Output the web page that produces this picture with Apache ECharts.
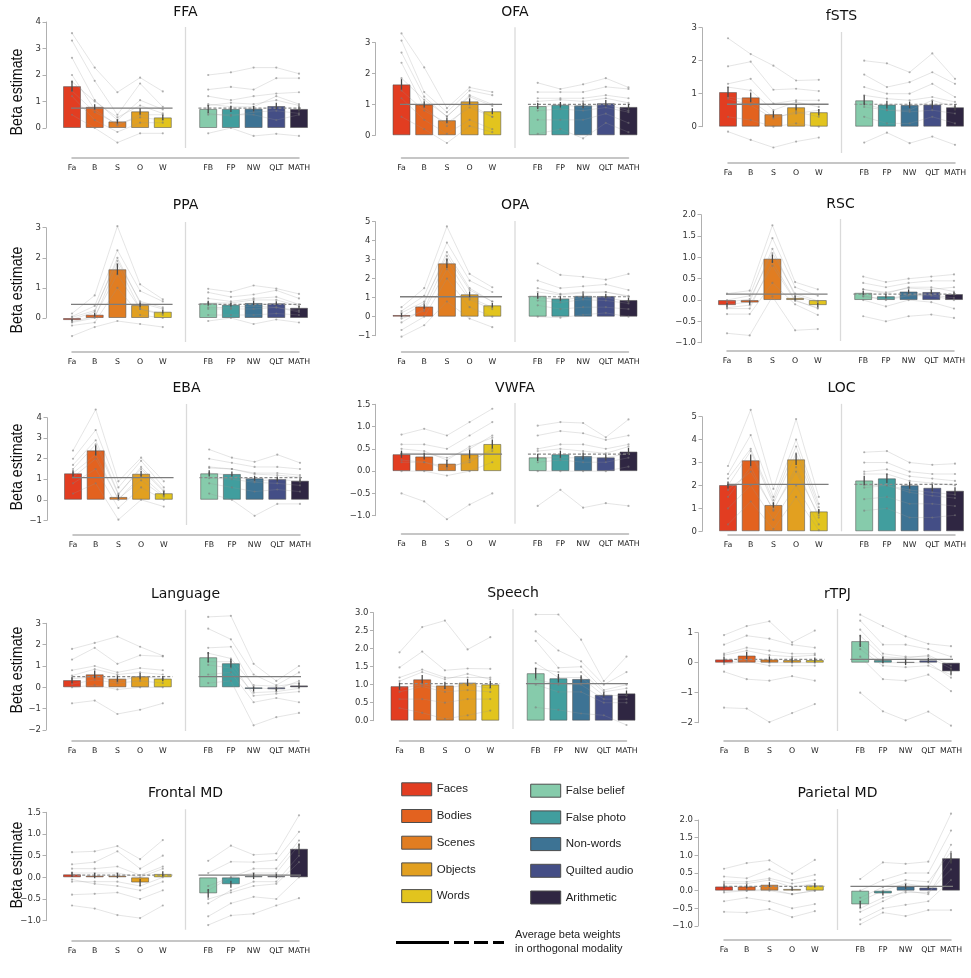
<!DOCTYPE html>
<html>
<head>
<meta charset="utf-8">
<title>ROI beta estimates</title>
<script src="https://cdn.jsdelivr.net/npm/echarts@6/dist/echarts.min.js"></script>
<style>
  html, body { margin: 0; padding: 0; background: #fff; }
  #chart { width: 971px; height: 978px; }
</style>
</head>
<body>
<div id="chart"></div>
<script>
// conditions (x slots 0-4 visual, 6-10 auditory, slot 5 is the gap)
const conditions = ['Fa', 'B', 'S', 'O', 'W', 'FB', 'FP', 'NW', 'QLT', 'MATH']
const condX = [0, 1, 2, 3, 4, 6, 7, 8, 9, 10]
const condNames = ['Faces', 'Bodies', 'Scenes', 'Objects', 'Words', 'False belief', 'False photo', 'Non-words', 'Quilted audio', 'Arithmetic']
const condColors = ['#E23D21', '#E3621F', '#E17D21', '#E2A020', '#E2C41E', '#86CBAB', '#419E9E', '#3D7394', '#444E86', '#2F2642']

// ---- FFA
const ffaMean = [1.58, 0.80, 0.25, 0.63, 0.40, 0.72, 0.72, 0.73, 0.83, 0.72]
const ffaSem = [0.20, 0.10, 0.08, 0.12, 0.10, 0.15, 0.12, 0.10, 0.12, 0.10]
const ffaRef = 0.75
const ffaSubjects = [
  [3.58, 2.28, 1.35, 1.90, 1.38, 2.00, 2.10, 2.28, 2.28, 2.05],
  [3.30, 1.78, 0.50, 1.68, 0.80, 1.45, 1.55, 1.45, 1.88, 1.88],
  [2.65, 1.05, 0.30, 1.05, 0.70, 1.20, 1.05, 1.20, 1.30, 1.35],
  [2.00, 0.70, 0.10, 0.50, 0.50, 0.90, 0.80, 0.80, 1.20, 0.90],
  [1.75, 1.00, 0.40, 0.85, 0.55, 0.85, 0.95, 0.90, 1.05, 0.85],
  [1.40, 0.60, 0.15, 0.40, 0.30, 0.55, 0.45, 0.60, 0.65, 0.55],
  [1.20, 0.30, -0.15, 0.20, 0.20, 0.50, 0.50, 0.50, 0.30, 0.50],
  [0.50, 0.00, -0.55, -0.20, -0.20, -0.20, 0.00, -0.30, -0.22, -0.30]
]
// ---- OFA
const ofaMean = [1.65, 1.00, 0.49, 1.10, 0.78, 0.95, 0.99, 0.97, 1.04, 0.92]
const ofaSem = [0.17, 0.10, 0.08, 0.10, 0.10, 0.10, 0.09, 0.09, 0.10, 0.10]
const ofaRef = 1.0
const ofaSubjects = [
  [3.30, 2.20, 0.88, 1.55, 1.40, 1.70, 1.50, 1.65, 1.85, 1.55],
  [3.07, 1.40, 0.75, 1.45, 1.30, 1.40, 1.40, 1.40, 1.57, 1.50],
  [2.68, 1.25, 0.60, 1.30, 1.00, 1.20, 1.20, 1.20, 1.30, 1.20],
  [2.35, 0.90, 0.30, 1.00, 0.60, 0.90, 1.00, 0.90, 1.00, 0.80],
  [1.85, 1.15, 0.62, 1.25, 0.95, 1.10, 1.15, 1.10, 1.20, 1.05],
  [1.45, 0.80, 0.40, 0.90, 0.60, 0.80, 0.85, 0.80, 0.90, 0.75],
  [1.20, 0.50, 0.05, 0.50, 0.20, 0.50, 0.50, 0.50, 0.70, 0.40],
  [0.60, 0.20, -0.25, 0.30, 0.10, 0.05, 0.20, -0.10, 0.40, 0.10]
]
// ---- fSTS
const fstsMean = [1.05, 0.89, 0.38, 0.59, 0.44, 0.80, 0.67, 0.66, 0.67, 0.59]
const fstsSem = [0.15, 0.15, 0.10, 0.10, 0.10, 0.15, 0.12, 0.10, 0.12, 0.10]
const fstsRef = 0.68
const fstsSubjects = [
  [2.68, 2.20, 1.85, 1.40, 1.42, 2.00, 1.92, 1.65, 2.22, 1.45],
  [1.83, 1.97, 1.12, 1.15, 1.08, 1.58, 1.20, 1.35, 1.65, 1.30],
  [1.30, 1.45, 0.70, 0.80, 0.80, 1.20, 1.00, 1.00, 1.30, 0.90],
  [0.90, 0.80, 0.30, 0.40, 0.50, 0.70, 0.50, 0.50, 0.80, 0.60],
  [1.20, 1.10, 0.50, 0.75, 0.60, 0.95, 0.85, 0.80, 0.90, 0.75],
  [0.85, 0.65, 0.25, 0.45, 0.30, 0.60, 0.50, 0.45, 0.50, 0.40],
  [0.30, 0.20, 0.00, 0.10, 0.00, 0.30, 0.10, 0.10, 0.30, 0.10],
  [-0.15, -0.40, -0.63, -0.45, -0.33, -0.48, -0.18, -0.50, -0.30, -0.55]
]
// ---- PPA
const ppaMean = [-0.07, 0.11, 1.62, 0.43, 0.21, 0.49, 0.44, 0.50, 0.49, 0.34]
const ppaSem = [0.04, 0.06, 0.18, 0.08, 0.06, 0.08, 0.06, 0.07, 0.07, 0.06]
const ppaRef = 0.45
const ppaSubjects = [
  [0.15, 0.75, 3.05, 1.12, 0.62, 0.97, 0.87, 1.08, 0.98, 0.80],
  [0.05, 0.40, 2.25, 0.90, 0.55, 0.85, 0.70, 0.78, 0.92, 0.65],
  [-0.05, 0.20, 2.00, 0.50, 0.30, 0.50, 0.50, 0.60, 0.60, 0.40],
  [-0.15, 0.00, 1.80, 0.30, 0.10, 0.30, 0.30, 0.30, 0.35, 0.20],
  [0.02, 0.25, 1.90, 0.55, 0.35, 0.65, 0.55, 0.65, 0.70, 0.45],
  [-0.12, 0.05, 1.45, 0.30, 0.15, 0.35, 0.35, 0.40, 0.35, 0.25],
  [-0.25, -0.15, 1.00, 0.10, 0.00, 0.10, 0.10, 0.10, 0.15, 0.10],
  [-0.60, -0.30, -0.10, -0.20, -0.30, -0.10, 0.00, -0.20, -0.05, -0.15]
]
// ---- OPA
const opaMean = [0.09, 0.54, 2.81, 1.18, 0.60, 1.10, 0.96, 1.10, 1.09, 0.88]
const opaSem = [0.10, 0.12, 0.25, 0.15, 0.12, 0.15, 0.12, 0.12, 0.12, 0.12]
const opaRef = 1.05
const opaSubjects = [
  [0.50, 1.50, 4.75, 2.25, 1.55, 2.80, 2.20, 2.10, 1.95, 2.25],
  [0.30, 1.10, 3.90, 1.90, 1.30, 1.90, 1.50, 1.60, 1.70, 1.40],
  [0.00, 0.70, 3.40, 1.50, 0.80, 1.50, 1.20, 1.30, 1.30, 1.10],
  [-0.30, 0.40, 3.00, 1.00, 0.50, 1.00, 0.90, 1.00, 1.00, 0.80],
  [0.20, 0.80, 3.20, 1.40, 0.80, 1.30, 1.15, 1.25, 1.30, 1.05],
  [-0.10, 0.30, 2.50, 0.90, 0.40, 0.85, 0.75, 0.90, 0.85, 0.70],
  [-0.70, 0.00, 2.00, 0.50, 0.00, 0.60, 0.40, 0.50, 0.50, 0.40],
  [-1.05, -0.45, 0.80, -0.10, -0.55, 0.00, -0.05, 0.10, 0.20, 0.00]
]
// ---- RSC
const rscMean = [-0.12, -0.06, 0.97, 0.05, -0.12, 0.17, 0.09, 0.20, 0.19, 0.14]
const rscSem = [0.05, 0.05, 0.10, 0.05, 0.05, 0.05, 0.05, 0.05, 0.05, 0.05]
const rscRef = 0.14
const rscSubjects = [
  [0.15, 0.22, 1.75, 0.42, 0.25, 0.55, 0.42, 0.50, 0.55, 0.60],
  [0.00, 0.10, 1.45, 0.30, 0.10, 0.40, 0.30, 0.40, 0.45, 0.45],
  [-0.10, -0.05, 1.20, 0.10, -0.05, 0.25, 0.15, 0.30, 0.30, 0.20],
  [-0.20, -0.20, 0.90, 0.00, -0.20, 0.10, 0.00, 0.10, 0.10, 0.00],
  [-0.05, 0.02, 1.10, 0.15, -0.02, 0.25, 0.18, 0.28, 0.25, 0.30],
  [-0.18, -0.12, 0.80, -0.02, -0.18, 0.08, 0.02, 0.12, 0.12, 0.05],
  [-0.33, -0.33, 0.40, -0.10, -0.35, 0.00, -0.15, 0.00, -0.05, -0.20],
  [-0.78, -0.83, 0.08, -0.71, -0.68, -0.38, -0.50, -0.38, -0.34, -0.42]
]
// ---- EBA
const ebaMean = [1.29, 2.41, 0.14, 1.27, 0.32, 1.29, 1.26, 1.05, 1.01, 0.93]
const ebaSem = [0.15, 0.25, 0.10, 0.15, 0.10, 0.15, 0.12, 0.12, 0.12, 0.12]
const ebaRef = 1.08
const ebaSubjects = [
  [2.40, 4.40, 0.90, 2.05, 0.90, 2.45, 2.05, 1.85, 2.20, 1.80],
  [2.00, 3.40, 0.60, 1.90, 0.60, 2.00, 1.80, 1.60, 1.60, 1.50],
  [1.70, 2.90, 0.30, 1.50, 0.40, 1.60, 1.50, 1.30, 1.30, 1.20],
  [1.30, 2.20, 0.00, 1.20, 0.20, 1.30, 1.20, 0.90, 1.00, 0.90],
  [1.50, 2.70, 0.25, 1.60, 0.45, 1.55, 1.50, 1.25, 1.20, 1.10],
  [1.10, 2.00, 0.05, 0.95, 0.15, 1.05, 1.00, 0.85, 0.80, 0.70],
  [0.80, 1.50, -0.40, 0.60, 0.00, 0.80, 0.60, 0.40, 0.50, 0.40],
  [0.30, 0.80, -0.97, 0.00, -0.33, 0.30, 0.00, -0.78, -0.20, -0.20]
]
// ---- VWFA
const vwfaMean = [0.38, 0.33, 0.17, 0.38, 0.61, 0.31, 0.38, 0.34, 0.31, 0.44]
const vwfaSem = [0.08, 0.07, 0.08, 0.10, 0.10, 0.08, 0.08, 0.08, 0.07, 0.08]
const vwfaRef = 0.38
const vwfaSubjects = [
  [0.82, 0.95, 0.80, 1.10, 1.40, 1.02, 1.10, 1.08, 0.76, 1.16],
  [0.60, 0.60, 0.50, 0.80, 1.10, 0.80, 0.90, 0.85, 0.70, 0.80],
  [0.40, 0.40, 0.30, 0.50, 0.80, 0.50, 0.60, 0.60, 0.50, 0.60],
  [0.20, 0.20, 0.10, 0.20, 0.50, 0.30, 0.30, 0.30, 0.30, 0.40],
  [0.50, 0.45, 0.25, 0.55, 0.75, 0.45, 0.50, 0.45, 0.40, 0.55],
  [0.25, 0.20, 0.05, 0.25, 0.45, 0.20, 0.25, 0.20, 0.20, 0.30],
  [0.00, 0.00, -0.10, 0.00, 0.20, 0.00, 0.00, 0.00, 0.00, 0.10],
  [-0.50, -0.68, -1.08, -0.75, -0.50, -0.78, -0.42, -0.82, -0.72, -0.78]
]
// ---- LOC
const locMean = [2.02, 3.10, 1.15, 3.14, 0.87, 2.22, 2.31, 2.01, 1.90, 1.77]
const locSem = [0.15, 0.25, 0.12, 0.25, 0.10, 0.20, 0.20, 0.15, 0.15, 0.15]
const locRef = 2.05
const locSubjects = [
  [2.85, 5.30, 1.85, 4.90, 1.50, 3.45, 3.50, 3.00, 2.90, 2.95],
  [2.50, 4.20, 1.50, 4.00, 1.20, 3.00, 3.00, 2.60, 2.50, 2.50],
  [2.00, 3.50, 1.20, 3.40, 0.90, 2.50, 2.50, 2.20, 2.10, 2.00],
  [1.50, 2.80, 0.90, 2.80, 0.60, 2.00, 2.00, 1.80, 1.70, 1.60],
  [2.30, 3.60, 1.35, 3.70, 1.05, 2.60, 2.70, 2.40, 2.30, 2.20],
  [1.80, 2.60, 0.95, 2.60, 0.70, 1.90, 2.00, 1.70, 1.55, 1.45],
  [1.00, 2.00, 0.50, 2.00, 0.30, 1.40, 1.50, 1.20, 1.20, 1.10],
  [0.30, 1.30, 0.10, 1.50, 0.05, 0.90, 1.00, 0.60, 0.60, 0.70]
]
// ---- Language
const langMean = [0.34, 0.61, 0.41, 0.52, 0.41, 1.41, 1.13, -0.08, -0.09, 0.09]
const langSem = [0.15, 0.18, 0.15, 0.15, 0.12, 0.25, 0.20, 0.12, 0.10, 0.12]
const langRef = 0.50
const langSubjects = [
  [1.80, 2.08, 2.38, 1.90, 1.48, 3.30, 3.35, 1.10, 0.30, 1.00],
  [1.30, 1.85, 1.10, 1.50, 1.45, 2.75, 2.25, 0.60, 0.10, 0.70],
  [0.80, 1.00, 0.70, 0.90, 0.80, 1.85, 1.90, 0.00, -0.10, 0.30],
  [0.40, 0.50, 0.30, 0.50, 0.40, 1.20, 1.20, -0.40, -0.30, -0.20],
  [0.55, 0.85, 0.60, 0.70, 0.60, 1.60, 1.35, 0.10, 0.05, 0.20],
  [0.15, 0.35, 0.20, 0.30, 0.20, 1.05, 0.90, -0.25, -0.20, -0.05],
  [0.00, 0.10, -0.10, 0.00, 0.00, 0.60, 0.70, -0.70, -0.50, -0.70],
  [-0.75, -0.62, -1.25, -1.05, -0.75, 0.20, 0.30, -1.78, -1.40, -1.20]
]
// ---- Speech
const speechMean = [0.96, 1.15, 0.98, 1.06, 1.01, 1.32, 1.18, 1.16, 0.72, 0.76]
const speechSem = [0.10, 0.12, 0.10, 0.10, 0.10, 0.15, 0.12, 0.10, 0.07, 0.08]
const speechRef = 1.03
const speechSubjects = [
  [1.90, 2.60, 2.78, 1.98, 2.32, 2.95, 2.95, 2.25, 1.10, 1.78],
  [1.48, 1.92, 1.40, 1.45, 1.44, 2.48, 1.95, 1.65, 1.00, 1.35],
  [1.20, 1.42, 1.20, 1.20, 1.20, 2.22, 1.47, 1.50, 0.85, 1.00],
  [0.90, 1.00, 0.90, 1.00, 0.90, 1.60, 1.20, 1.20, 0.70, 0.70],
  [1.10, 1.35, 1.15, 1.30, 1.15, 1.45, 1.35, 1.35, 0.80, 0.90],
  [0.80, 0.95, 0.80, 0.85, 0.80, 1.15, 1.00, 1.00, 0.60, 0.60],
  [0.60, 0.60, 0.50, 0.60, 0.60, 1.00, 0.80, 0.80, 0.50, 0.50],
  [0.35, 0.22, 0.05, 0.15, 0.28, 0.37, 0.30, 0.20, 0.15, -0.12]
]
// ---- rTPJ
const rtpjMean = [0.11, 0.24, 0.11, 0.09, 0.09, 0.72, 0.09, 0.02, 0.08, -0.29]
const rtpjSem = [0.10, 0.12, 0.10, 0.08, 0.08, 0.20, 0.10, 0.10, 0.08, 0.10]
const rtpjRef = 0.11
const rtpjSubjects = [
  [0.92, 1.22, 1.38, 0.68, 1.07, 1.60, 1.22, 0.88, 0.63, 0.55],
  [0.60, 0.90, 0.80, 0.60, 0.50, 1.40, 0.60, 0.60, 0.45, 0.20],
  [0.30, 0.50, 0.40, 0.30, 0.30, 1.10, 0.30, 0.20, 0.20, -0.20],
  [0.00, 0.10, 0.00, 0.00, 0.00, 0.60, 0.00, 0.00, 0.00, -0.50],
  [0.25, 0.40, 0.25, 0.20, 0.25, 0.90, 0.20, 0.15, 0.25, -0.10],
  [-0.05, 0.05, -0.10, -0.10, -0.10, 0.45, -0.10, -0.15, -0.10, -0.40],
  [-0.30, -0.55, -0.60, -0.45, -0.60, 0.20, -0.55, -0.60, -0.40, -0.95],
  [-1.50, -1.53, -1.98, -1.68, -1.38, -1.00, -1.62, -1.92, -1.63, -2.10]
]
// ---- Frontal MD
const fmdMean = [0.07, 0.04, 0.04, -0.12, 0.08, -0.37, -0.16, 0.03, 0.03, 0.66]
const fmdSem = [0.06, 0.06, 0.06, 0.08, 0.06, 0.10, 0.08, 0.07, 0.05, 0.12]
const fmdRef = 0.05
const fmdSubjects = [
  [0.58, 0.60, 0.72, 0.42, 0.86, 0.38, 0.73, 0.52, 0.55, 1.43],
  [0.30, 0.35, 0.60, 0.20, 0.50, 0.10, 0.36, 0.35, 0.40, 1.05],
  [0.10, 0.10, 0.10, 0.00, 0.20, -0.30, 0.00, 0.10, 0.10, 0.75],
  [-0.10, -0.10, -0.10, -0.20, 0.00, -0.60, -0.30, -0.10, -0.10, 0.50],
  [0.20, 0.20, 0.25, 0.05, 0.25, -0.20, 0.00, 0.20, 0.20, 0.85],
  [-0.05, -0.15, -0.20, -0.30, -0.10, -0.50, -0.35, -0.20, -0.15, 0.35],
  [-0.40, -0.38, -0.35, -0.50, -0.30, -0.90, -0.60, -0.45, -0.50, 0.00],
  [-0.65, -0.72, -0.87, -0.94, -0.65, -1.10, -0.88, -0.84, -0.65, -0.48]
]
// ---- Parietal MD
const pmdMean = [0.12, 0.12, 0.17, 0.05, 0.15, -0.39, -0.08, 0.12, 0.09, 0.92]
const pmdSem = [0.06, 0.06, 0.07, 0.05, 0.06, 0.10, 0.06, 0.07, 0.05, 0.15]
const pmdRef = 0.12
const pmdSubjects = [
  [0.62, 0.78, 0.86, 0.48, 0.87, 0.33, 0.80, 0.76, 0.82, 2.18],
  [0.40, 0.35, 0.60, 0.30, 0.45, 0.00, 0.30, 0.50, 0.50, 1.70],
  [0.20, 0.20, 0.30, 0.10, 0.20, -0.30, 0.00, 0.20, 0.10, 1.30],
  [0.00, 0.00, 0.00, -0.10, 0.00, -0.60, -0.30, 0.00, -0.10, 0.90],
  [0.25, 0.25, 0.35, 0.20, 0.30, -0.20, 0.10, 0.30, 0.25, 1.10],
  [-0.05, 0.00, 0.05, -0.10, 0.00, -0.50, -0.20, -0.05, -0.05, 0.60],
  [-0.30, -0.20, -0.30, -0.50, -0.38, -0.82, -0.50, -0.40, -0.30, 0.30],
  [-0.60, -0.62, -0.52, -0.75, -0.58, -0.95, -0.62, -0.72, -0.55, -0.55]
]

// panel layout: grid spans tick range (px), lo/hi = axes limits, visual = solid ref on left half
const panels = [
  {roi: 'FFA', mean: ffaMean, sem: ffaSem, ref: ffaRef, subj: ffaSubjects, visual: true, left: 72, top: 22, bottom: 128, tmin: 0, tmax: 4, step: 1, lo: -0.75, hi: 3.81, xOff: 30, titleY: 12},
  {roi: 'OFA', mean: ofaMean, sem: ofaSem, ref: ofaRef, subj: ofaSubjects, visual: true, left: 401.5, top: 42.7, bottom: 135.3, tmin: 0, tmax: 3, step: 1, lo: -0.41, hi: 3.5, xOff: 22.7, titleY: 12.5},
  {roi: 'fSTS', mean: fstsMean, sem: fstsSem, ref: fstsRef, subj: fstsSubjects, visual: true, left: 728, top: 27.7, bottom: 126.7, tmin: 0, tmax: 3, step: 1, lo: -0.8, hi: 2.87, xOff: 36.3, titleY: 16},
  {roi: 'PPA', mean: ppaMean, sem: ppaSem, ref: ppaRef, subj: ppaSubjects, visual: true, left: 72, top: 227.7, bottom: 318, tmin: 0, tmax: 3, step: 1, lo: -0.8, hi: 3.19, xOff: 34, titleY: 205},
  {roi: 'OPA', mean: opaMean, sem: opaSem, ref: opaRef, subj: opaSubjects, visual: true, left: 401.5, top: 221.7, bottom: 335.7, tmin: -1, tmax: 5, step: 1, lo: -1.33, hi: 5.04, xOff: 16.3, titleY: 205},
  {roi: 'RSC', mean: rscMean, sem: rscSem, ref: rscRef, subj: rscSubjects, visual: true, left: 727, top: 214.7, bottom: 342.7, tmin: -1, tmax: 2, step: 0.5, lo: -0.96, hi: 1.9, xOff: 8.3, titleY: 204},
  {roi: 'EBA', mean: ebaMean, sem: ebaSem, ref: ebaRef, subj: ebaSubjects, visual: true, left: 73, top: 417.7, bottom: 520.3, tmin: -1, tmax: 4, step: 1, lo: -1.23, hi: 4.67, xOff: 14.7, titleY: 388},
  {roi: 'VWFA', mean: vwfaMean, sem: vwfaSem, ref: vwfaRef, subj: vwfaSubjects, visual: true, left: 401.5, top: 404.3, bottom: 515.7, tmin: -1, tmax: 1.5, step: 0.5, lo: -1.18, hi: 1.53, xOff: 18.3, titleY: 388},
  {roi: 'LOC', mean: locMean, sem: locSem, ref: locRef, subj: locSubjects, visual: true, left: 728, top: 416.7, bottom: 531.3, tmin: 0, tmax: 5, step: 1, lo: 0, hi: 5.56, xOff: 3.7, titleY: 388},
  {roi: 'Language', mean: langMean, sem: langSem, ref: langRef, subj: langSubjects, visual: false, left: 72, top: 623.3, bottom: 730, tmin: -2, tmax: 3, step: 1, lo: -2.05, hi: 3.63, xOff: 11, titleY: 594},
  {roi: 'Speech', mean: speechMean, sem: speechSem, ref: speechRef, subj: speechSubjects, visual: false, left: 399.5, top: 612.7, bottom: 720.7, tmin: 0, tmax: 3, step: 0.5, lo: -0.23, hi: 3.1, xOff: 20.3, titleY: 593},
  {roi: 'rTPJ', mean: rtpjMean, sem: rtpjSem, ref: rtpjRef, subj: rtpjSubjects, visual: false, left: 724, top: 632.7, bottom: 722.7, tmin: -2, tmax: 1, step: 1, lo: -2.28, hi: 1.79, xOff: 18.3, titleY: 594},
  {roi: 'Frontal MD', mean: fmdMean, sem: fmdSem, ref: fmdRef, subj: fmdSubjects, visual: false, left: 72, top: 812.3, bottom: 920.7, tmin: -1, tmax: 1.5, step: 0.5, lo: -1.21, hi: 1.57, xOff: 20.3, titleY: 793},
  {roi: 'Parietal MD', mean: pmdMean, sem: pmdSem, ref: pmdRef, subj: pmdSubjects, visual: false, left: 724, top: 820, bottom: 926, tmin: -1, tmax: 2, step: 0.5, lo: -1.11, hi: 2.31, xOff: 14, titleY: 793}
]
const betaLabelY = [92, 290, 467, 670, 865]

const span = 227        // Fa centre -> MATH centre
const spineGap = 26     // y spine sits left of the Fa centre
const tickFont = 'DejaVu Sans'
const sansFont = 'Liberation Sans'

const grids = []
const xAxes = []
const yAxes = []
const series = []
const graphics = []

const fmtY = step => v => (step < 1 ? v.toFixed(1) : String(Math.round(v))).replace('-', '\u2212')

panels.forEach((p, i) => {
  grids.push({left: p.left, width: span, top: p.top, height: p.bottom - p.top})
  xAxes.push({
    gridIndex: i, type: 'value', min: 0, max: 10, position: 'bottom', offset: p.xOff,
    axisLine: {show: true, onZero: false, lineStyle: {color: '#b4b4b4', width: 1.5}},
    axisTick: {show: false},
    splitLine: {show: false},
    axisLabel: {
      customValues: condX,
      formatter: v => conditions[condX.indexOf(v)],
      color: '#222', fontSize: 7.8, fontFamily: tickFont, margin: 6
    }
  })
  yAxes.push({
    gridIndex: i, type: 'value', min: p.tmin, max: p.tmax, interval: p.step, offset: spineGap,
    axisLine: {show: true, onZero: false, lineStyle: {color: '#b0b0b0', width: 1}},
    axisTick: {show: true, length: 3.5, lineStyle: {color: '#b0b0b0'}},
    splitLine: {show: false},
    axisLabel: {formatter: fmtY(p.step), color: '#333', fontSize: 8.5, fontFamily: tickFont, margin: 5}
  })

  // modality divider
  series.push({
    type: 'line', xAxisIndex: i, yAxisIndex: i, z: 1, silent: true, clip: false, symbol: 'none',
    lineStyle: {color: '#dadada', width: 1.3},
    data: [[5, p.lo], [5, p.hi]]
  })
  // condition bars
  series.push({
    type: 'bar', xAxisIndex: i, yAxisIndex: i, z: 2, barWidth: 18, clip: false, silent: true,
    itemStyle: {borderColor: 'rgba(80,80,80,0.55)', borderWidth: 1},
    data: p.mean.map((m, k) => ({value: [condX[k], m], itemStyle: {color: condColors[k]}}))
  })
  // individual subjects, one polyline per modality half
  p.subj.forEach(row => {
    [[0, 5], [5, 10]].forEach(([a, b]) => {
      series.push({
        type: 'line', xAxisIndex: i, yAxisIndex: i, z: 3, silent: true, clip: false,
        symbol: 'circle', symbolSize: 2.2, showSymbol: true,
        itemStyle: {color: 'rgba(120,120,120,0.55)'},
        lineStyle: {color: 'rgba(150,150,150,0.35)', width: 0.7},
        data: row.slice(a, b).map((v, k) => [condX[a + k], v])
      })
    })
  })
  // average beta in orthogonal modality
  const halves = [[-0.43, 4.43], [5.57, 10.43]]
  halves.forEach(([x0, x1], h) => {
    const solid = (h === 0) === p.visual
    series.push({
      type: 'line', xAxisIndex: i, yAxisIndex: i, z: 4, silent: true, clip: false, symbol: 'none',
      lineStyle: solid ? {color: '#7d7d7d', width: 1.3} : {color: '#8a8a8a', width: 1.2, type: [3, 2]},
      data: [[x0, p.ref], [x1, p.ref]]
    })
  })
  // error bars
  series.push({
    type: 'custom', xAxisIndex: i, yAxisIndex: i, z: 5, silent: true, clip: false,
    data: p.mean.map((m, k) => [condX[k], m - p.sem[k], m + p.sem[k]]),
    renderItem: (params, api) => {
      const a = api.coord([api.value(0), api.value(1)])
      const b = api.coord([api.value(0), api.value(2)])
      return {type: 'line', shape: {x1: a[0], y1: a[1], x2: b[0], y2: b[1]}, style: {stroke: '#4a4a4a', lineWidth: 1.3}}
    }
  })

  graphics.push({
    type: 'text', x: p.left + span / 2, y: p.titleY,
    style: {text: p.roi, fontSize: 14, fontFamily: tickFont, fill: '#111', align: 'center', verticalAlign: 'middle'}
  })
})

betaLabelY.forEach(y => {
  graphics.push({
    type: 'text', x: 17, y: y, rotation: Math.PI / 2, scaleX: 0.86,
    style: {text: 'Beta estimate', fontSize: 16.5, fontFamily: sansFont, fill: '#111', align: 'center', verticalAlign: 'middle'}
  })
})

// legend block
const legendCols = [{x: 401.7, y: 789.3}, {x: 530.7, y: 790.7}]
const legendStep = 26.7
condNames.forEach((name, k) => {
  const c = legendCols[k < 5 ? 0 : 1]
  const y = c.y + (k % 5) * legendStep
  graphics.push({
    type: 'rect', shape: {x: c.x, y: y - 6.5, width: 30, height: 13},
    style: {fill: condColors[k], stroke: '#4d4d4d', lineWidth: 1}
  })
  graphics.push({
    type: 'text', x: c.x + 35, y: y,
    style: {text: name, fontSize: 11.5, fontFamily: sansFont, fill: '#222', align: 'left', verticalAlign: 'middle'}
  })
})
graphics.push({type: 'line', shape: {x1: 396, y1: 942.5, x2: 449, y2: 942.5}, style: {stroke: '#000', lineWidth: 3}})
;[[454, 469], [474, 488], [493, 504]].forEach(([x1, x2]) => {
  graphics.push({type: 'line', shape: {x1: x1, y1: 942.5, x2: x2, y2: 942.5}, style: {stroke: '#000', lineWidth: 3}})
})
graphics.push({
  type: 'text', x: 515, y: 935,
  style: {text: 'Average beta weights', fontSize: 11, fontFamily: sansFont, fill: '#222', align: 'left', verticalAlign: 'middle'}
})
graphics.push({
  type: 'text', x: 515, y: 948.5,
  style: {text: 'in orthogonal modality', fontSize: 11, fontFamily: sansFont, fill: '#222', align: 'left', verticalAlign: 'middle'}
})

const chart = echarts.init(document.getElementById('chart'), null, {renderer: 'canvas'})
chart.setOption({
  animation: false,
  backgroundColor: '#fff',
  grid: grids,
  xAxis: xAxes,
  yAxis: yAxes,
  series: series,
  graphic: graphics
})
</script>
</body>
</html>
